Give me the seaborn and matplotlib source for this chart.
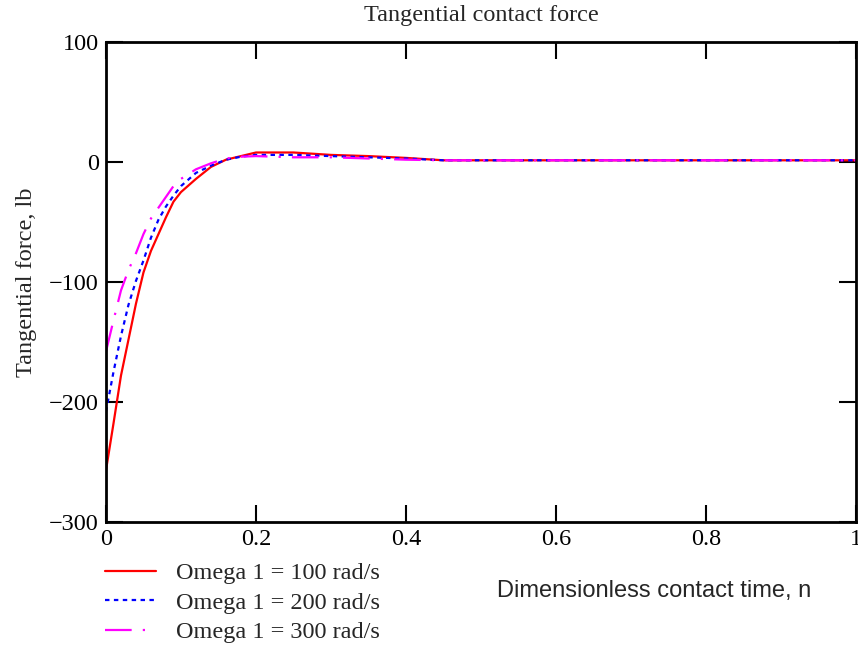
import numpy as np
import pandas as pd
import seaborn as sns
import matplotlib.pyplot as plt

# dimensionless contact time
n = [0, 0.01, 0.02, 0.03, 0.04, 0.05, 0.06, 0.07, 0.08, 0.09, 0.10, 0.12, 0.14,
     0.16, 0.18, 0.20, 0.25, 0.30, 0.35, 0.40, 0.45, 0.5, 0.6, 0.7, 0.8, 0.9, 1.0]

# tangential force, lb
f_100 = [-257, -218, -178, -148, -118, -92, -74, -60, -46, -33, -25, -14, -4,
         2, 5, 8, 8, 6, 5, 3.5, 1.5, 1.5, 1.5, 1.5, 1.5, 1.5, 1.5]
f_200 = [-208, -175, -145, -119, -99, -82, -63, -48, -37, -28, -20, -9, -3,
         2, 4.5, 6, 6, 5, 4, 3, 1.5, 1.5, 1.5, 1.5, 1.5, 1.5, 1.5]
f_300 = [-158, -132, -107, -90, -76, -60, -47, -38, -29, -20, -14, -6, -1,
         3, 4.5, 5, 4, 4, 3, 2, 1.5, 1.5, 1.5, 1.5, 1.5, 1.5, 1.5]

labels = ["Omega 1 = 100 rad/s", "Omega 1 = 200 rad/s", "Omega 1 = 300 rad/s"]
colors = ["#ff0000", "#0000ff", "#ff00ff"]
styles = ["-", (0, (2, 2)), (0, (12, 5, 1, 5))]

sns.set_style("white")
plt.rcParams['font.family'] = ['Liberation Serif', 'DejaVu Serif']
plt.rcParams['axes.unicode_minus'] = True

fig = plt.figure(figsize=(8.58, 6.48), dpi=100)
ax = fig.add_axes([0.1235, 0.1944, 0.8742, 0.7406])

for y, lab, c, ls in zip([f_100, f_200, f_300], labels, colors, styles):
    df = pd.DataFrame({"n": n, "F": y})
    sns.lineplot(data=df, x="n", y="F", ax=ax, color=c, linestyle=ls,
                 linewidth=1.6, label=lab, estimator=None, sort=False)

ax.set_xlim(0, 1)
ax.set_ylim(-300, 100)
ax.set_xticks([0, 0.2, 0.4, 0.6, 0.8, 1])
ax.set_xticklabels(["0", "0.2", "0.4", "0.6", "0.8", "1"])
ax.set_yticks([-300, -200, -100, 0, 100])
ax.tick_params(direction="in", length=12, width=1.5, top=True, right=True,
               bottom=True, left=True, labelsize=17.5, pad=5, colors="black")
for s in ax.spines.values():
    s.set_linewidth(2)
    s.set_color("black")

ax.set_xlabel("")
ax.set_ylabel("Tangential force, lb", fontsize=17.5)
ax.yaxis.set_label_coords(-0.092, 0.5)
ax.set_title("Tangential contact force", fontsize=17.5, pad=15)

fig.text(0.5795, 0.088, "Dimensionless contact time, n", fontsize=17,
         family=["Liberation Sans", "DejaVu Sans"], va="center")

ax.legend(loc="upper left", bbox_to_anchor=(-0.014, -0.064), frameon=False,
          fontsize=17.5, handlelength=2.1, handletextpad=0.8, labelspacing=0.3,
          borderaxespad=0)

fig.savefig("out.png", dpi=100)
